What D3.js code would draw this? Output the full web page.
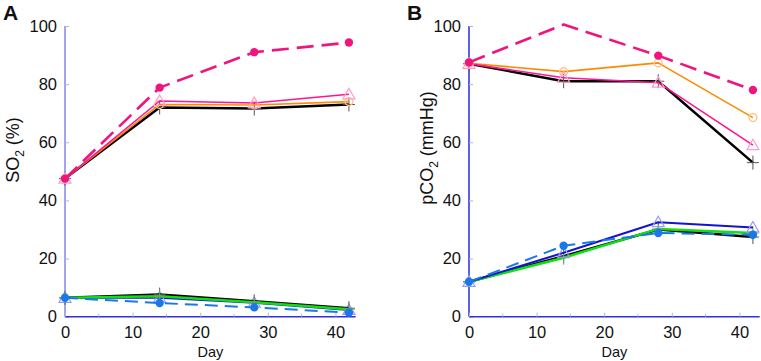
<!DOCTYPE html>
<html>
<head>
<meta charset="utf-8">
<script src="https://cdn.jsdelivr.net/npm/d3@7"></script>
<style>
  body { margin: 0; background: #fff; }
  text { font-family: "Liberation Sans", Arial, sans-serif; }
</style>
</head>
<body>
<div id="chart"></div>
<script>
const days = [0, 14, 28, 42];
const yTicks = [0, 20, 40, 60, 80, 100];
const xTicks = [0, 10, 20, 30, 40];

// panel A, SO2 (%)
const so2Black = [47.5, 72.0, 71.6, 73.0];
const so2Orange = [47.5, 73.0, 72.8, 74.0];
const so2Pink = [47.5, 74.2, 73.5, 76.5];
const so2PinkDash = [47.5, 78.8, 91.0, 94.3];
const so2BlackLow = [6.5, 7.6, 5.3, 2.9];
const so2Green = [6.5, 7.0, 5.0, 2.6];
const so2Navy = [6.5, 6.5, 4.8, 2.3];
const so2BlueDash = [6.5, 4.7, 3.2, 1.4];

// panel B, pCO2 (mmHg)
const pco2Black = [87.0, 81.0, 81.0, 53.0];
const pco2Orange = [87.2, 84.3, 87.3, 68.5];
const pco2Pink = [87.0, 82.2, 80.5, 59.0];
const pco2PinkDash = [87.5, 100.5, 89.8, 78.0];
const pco2BlackLow = [12.0, 20.8, 30.0, 27.4];
const pco2Green = [12.0, 20.3, 30.2, 28.8];
const pco2Navy = [12.0, 22.0, 32.5, 30.7];
const pco2BlueDash = [12.0, 24.4, 28.8, 28.2];

const W = 761, H = 361;
const svg = d3.select('#chart').append('svg').attr('width', W).attr('height', H);

const styles = {
  black:    { color: '#000', width: 2.5, mark: 'plus', mcol: '#555' },
  orange:   { color: '#ff8a00', width: 1.6, mark: 'circle', mcol: '#ffc080' },
  pink:     { color: '#ff1493', width: 1.6, mark: 'tri', mcol: '#ff9ccc' },
  pinkDash: { color: '#f0157e', width: 2.6, mark: 'dot', mcol: '#f0157e', dash: '17,8' },
  green:    { color: '#10e010', width: 2.5, mark: 'plus', mcol: '#70a070' },
  navy:     { color: '#1414d0', width: 2, mark: 'tri', mcol: '#9a9af5' },
  blueDash: { color: '#1a78ea', width: 2, mark: 'dot', mcol: '#1a78ea', dash: '13,7' }
};

function panel(opt) {
  const x = d3.scaleLinear().domain([0, 43]).range([opt.x0, opt.x0 + 43 * 6.76]);
  const y = d3.scaleLinear().domain([0, 100]).range([316.7, 26]);
  const g = svg.append('g');

  // axes
  const yAxis = d3.axisLeft(y).tickValues(yTicks).tickSize(-4).tickPadding(8).tickFormat(d3.format('d'));
  const ya = g.append('g').attr('transform', `translate(${opt.x0},0)`).call(yAxis);
  ya.select('.domain').attr('stroke', opt.ycol).attr('stroke-width', 1.5).attr('d', `M0,${y(0)}V${y(100)}`);
  ya.selectAll('.tick line').attr('stroke', '#b0b0f0');
  ya.selectAll('.tick text').attr('font-size', 16.5).attr('fill', '#111').attr('font-family', '"Liberation Sans", Arial, sans-serif');

  const xAxis = d3.axisBottom(x).tickValues(xTicks).tickSize(-4).tickPadding(10).tickFormat(d3.format('d'));
  const xa = g.append('g').attr('transform', `translate(0,${y(0)})`).call(xAxis);
  xa.select('.domain').attr('stroke', '#3030e0').attr('stroke-width', 1.5).attr('d', `M${x(0)},0H${x(43)}`);
  xa.selectAll('.tick line').attr('stroke', '#b0b0f0');
  xa.selectAll('.tick text').attr('font-size', 16.5).attr('fill', '#111').attr('font-family', '"Liberation Sans", Arial, sans-serif');
  xa.selectAll('.minor').data([5, 15, 25, 35]).join('line')
    .attr('x1', d => x(d)).attr('x2', d => x(d)).attr('y1', 0).attr('y2', -3)
    .attr('stroke', '#b0b0f0');

  // labels
  g.append('text').attr('x', x(21.5)).attr('y', 357).attr('text-anchor', 'middle')
    .attr('font-size', 14.5).attr('fill', '#111').text('Day');
  g.append('text').attr('x', opt.x0 - 62).attr('y', 20).attr('font-size', 21)
    .attr('font-weight', 'bold').attr('fill', '#111').text(opt.letter);
  const yl = g.append('text')
    .attr('transform', `translate(${opt.labelX},${opt.labelY}) rotate(-90)`)
    .attr('text-anchor', 'middle').attr('font-size', 18).attr('fill', '#111');
  yl.append('tspan').text(opt.ylabel[0]);
  yl.append('tspan').attr('font-size', 12).attr('dy', 5).text('2');
  yl.append('tspan').attr('dy', -5).text(opt.ylabel[1]);

  const line = d3.line().x((d, i) => x(days[i])).y(d => y(d));

  opt.series.forEach(([vals, key]) => {
    const s = styles[key];
    g.append('path').attr('d', line(vals)).attr('fill', 'none')
      .attr('stroke', s.color).attr('stroke-width', s.width)
      .attr('stroke-dasharray', s.dash || null).attr('stroke-linejoin', 'round');
    // markers beyond the top of the axis are clipped
    const pts = g.append('g').selectAll('g')
      .data(vals.map((v, i) => [days[i], v]).filter(d => d[1] <= 100)).join('g')
      .attr('transform', d => `translate(${x(d[0])},${y(d[1])})`);
    if (s.mark === 'plus') {
      pts.append('path').attr('d', 'M-6,0H6M0,-7V7').attr('stroke', s.mcol).attr('stroke-width', 1);
    } else if (s.mark === 'circle') {
      pts.append('circle').attr('r', 4).attr('fill', 'none').attr('stroke', s.mcol).attr('stroke-width', 1.2);
    } else if (s.mark === 'tri') {
      pts.append('path').attr('d', 'M0,-6L6,4.5H-6Z').attr('fill', 'none').attr('stroke', s.mcol).attr('stroke-width', 1.2);
    } else if (s.mark === 'dot') {
      pts.append('circle').attr('r', 4.2).attr('fill', s.mcol);
    }
  });
}

panel({
  x0: 65, letter: 'A', ycol: '#8585f0', labelX: 19, labelY: 150, ylabel: ['SO', ' (%)'],
  series: [[so2Black, 'black'], [so2Orange, 'orange'], [so2Pink, 'pink'], [so2PinkDash, 'pinkDash'],
           [so2Navy, 'navy'], [so2BlackLow, 'black'], [so2Green, 'green'], [so2BlueDash, 'blueDash']]
});

panel({
  x0: 469, letter: 'B', ycol: '#2828e0', labelX: 433, labelY: 148, ylabel: ['pCO', ' (mmHg)'],
  series: [[pco2Black, 'black'], [pco2Orange, 'orange'], [pco2Pink, 'pink'], [pco2PinkDash, 'pinkDash'],
           [pco2BlackLow, 'black'], [pco2Green, 'green'], [pco2Navy, 'navy'], [pco2BlueDash, 'blueDash']]
});
</script>
</body>
</html>
